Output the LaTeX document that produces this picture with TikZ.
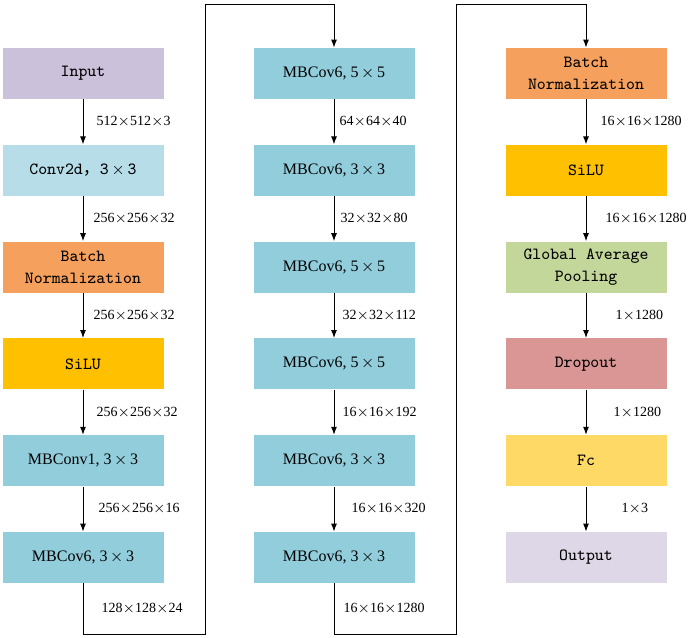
\documentclass[tikz,border=0pt]{standalone}
\usepackage{fontspec}
\setmainfont{Liberation Serif}
\newfontfamily\cjk{Noto Sans CJK SC}
\usepackage{xcolor}
\usetikzlibrary{arrows.meta, positioning}
\definecolor{inputc}{HTML}{CCC1DA}
\definecolor{convc}{HTML}{B7DDE8}
\definecolor{bnc}{HTML}{F5A05C}
\definecolor{siluc}{HTML}{FFC000}
\definecolor{mbc}{HTML}{92CDDC}
\definecolor{gapc}{HTML}{C4D79B}
\definecolor{dropc}{HTML}{DA9694}
\definecolor{fcc}{HTML}{FFD966}
\definecolor{outc}{HTML}{DED7E7}
\newcommand{\tms}{$\times$}
\newcommand{\btms}{\,$\times$\,}
\tikzset{
	block/.style={rectangle, minimum width=80.5pt, minimum height=25.5pt, inner sep=0pt, align=center, font=\ttfamily\fontsize{8.5}{11}\selectfont},
	mb_block/.style={block, fill=mbc, font=\fontsize{8}{10}\selectfont},
	flow/.style={-{Latex[length=4pt, width=3pt]}, line width=0.5pt},
	dim/.style={font=\fontsize{7}{8}\selectfont, inner sep=0pt}
}

\begin{document}
\begin{tikzpicture}[x=0.5pt, y=-0.5pt]
	\useasboundingbox (0,0) rectangle (694,637);
	\node[block, fill=inputc] (input) at (83,73.5) {Input};
	\node[block, fill=convc, below=22.5pt of input] (conv) {Conv2d{\cjk ，}3\btms3};
	\node[block, fill=bnc, below=22.5pt of conv] (bn1) {Batch\\Normalization};
	\node[block, fill=siluc, below=22.5pt of bn1] (silu1) {SiLU};
	\node[mb_block, below=22.5pt of silu1] (mb1) {MBConv1, 3\btms3};
	\node[mb_block, below=22.5pt of mb1] (mb2) {MBCov6, 3\btms3};
	\draw[flow] (input) -- node[dim, right=6.5pt] {512\tms512\tms3} (conv);
	\draw[flow] (conv) -- node[dim, right=5pt] {256\tms256\tms32} (bn1);
	\draw[flow] (bn1) -- node[dim, right=5pt] {256\tms256\tms32} (silu1);
	\draw[flow] (silu1) -- node[dim, right=6.5pt] {256\tms256\tms32} (mb1);
	\draw[flow] (mb1) -- node[dim, right=7.5pt] {256\tms256\tms16} (mb2);

	\node[mb_block] (mb3) at (334,73.5) {MBCov6, 5\btms5};
	\node[mb_block, below=22.5pt of mb3] (mb4) {MBCov6, 3\btms3};
	\node[mb_block, below=22.5pt of mb4] (mb5) {MBCov6, 5\btms5};
	\node[mb_block, below=22.5pt of mb5] (mb6) {MBCov6, 5\btms5};
	\node[mb_block, below=22.5pt of mb6] (mb7) {MBCov6, 3\btms3};
	\node[mb_block, below=22.5pt of mb7] (mb8) {MBCov6, 3\btms3};
	\draw[flow] (mb3) -- node[dim, right=2.5pt] {64\tms64\tms40} (mb4);
	\draw[flow] (mb4) -- node[dim, right=3pt] {32\tms32\tms80} (mb5);
	\draw[flow] (mb5) -- node[dim, right=4pt] {32\tms32\tms112} (mb6);
	\draw[flow] (mb6) -- node[dim, right=4pt] {16\tms16\tms192} (mb7);
	\draw[flow] (mb7) -- node[dim, right=8.5pt] {16\tms16\tms320} (mb8);

	\node[block, fill=bnc] (bn2) at (586,73.5) {Batch\\Normalization};
	\node[block, fill=siluc, below=22.5pt of bn2] (silu2) {SiLU};
	\node[block, fill=gapc, below=22.5pt of silu2] (gap) {Global Average\\Pooling};
	\node[block, fill=dropc, below=22.5pt of gap] (drop) {Dropout};
	\node[block, fill=fcc, below=22.5pt of drop] (fc) {Fc};
	\node[block, fill=outc, below=22.5pt of fc] (output) {Output};
	\draw[flow] (bn2) -- node[dim, right=7pt] {16\tms16\tms1280} (silu2);
	\draw[flow] (silu2) -- node[dim, right=9.5pt] {16\tms16\tms1280} (gap);
	\draw[flow] (gap) -- node[dim, right=14.5pt] {1\tms1280} (drop);
	\draw[flow] (drop) -- node[dim, right=13.5pt] {1\tms1280} (fc);
	\draw[flow] (fc) -- node[dim, right=17.5pt] {1\tms3} (output);

	\coordinate (lowA) at (205,634);
	\coordinate (topA) at (205,4);
	\coordinate (lowB) at (456,634);
	\coordinate (topB) at (456,4);
	\draw[flow] (mb2.south) |- node[dim, pos=0.25, right=9pt] {128\tms128\tms24} (lowA) -- (topA) -| (mb3.north);
	\draw[flow] (mb8.south) |- node[dim, pos=0.25, right=4.5pt] {16\tms16\tms1280} (lowB) -- (topB) -| (bn2.north);
\end{tikzpicture}
\end{document}
